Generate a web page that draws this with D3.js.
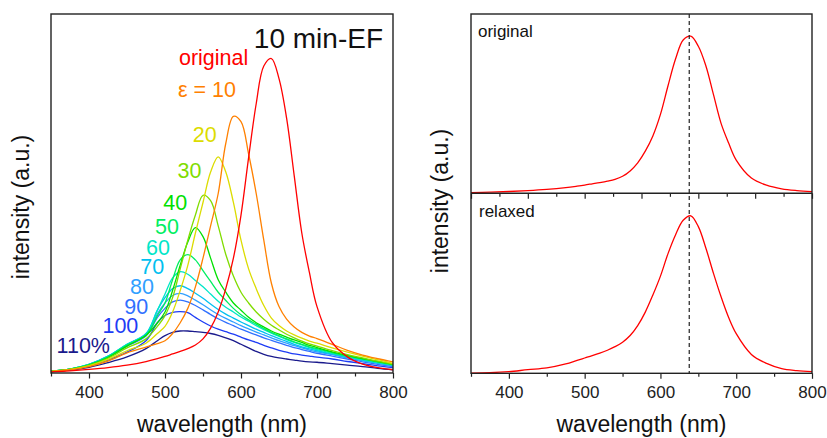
<!DOCTYPE html>
<html>
<head>
<meta charset="utf-8">
<script src="https://cdn.jsdelivr.net/npm/d3@7"></script>
<style>
  body { margin: 0; background: #fff; }
  svg { display: block; }
  text { font-family: "Liberation Sans", Arial, sans-serif; }
</style>
</head>
<body>
<svg width="827" height="438"></svg>
<script>
// wavelength grid (nm) shared by all spectra
const wavelengths = [350,375,400,425,450,475,490,500,510,520,530,540,550,560,570,580,590,600,610,620,630,640,650,660,670,680,690,700,720,740,760,780,800];

// PL spectra, intensity in % of plot height
const original = [0.3,0.6,1.0,1.5,2.2,3.2,4.0,4.6,5.3,6.0,6.8,7.8,9.5,12.5,17,23.5,32,44,60,75,85.5,87.6,82,71,55,39,28,18.5,8.5,4.5,2.5,1.5,0.9];
const eps10 = [0.4,0.9,1.8,3.3,5.6,7.2,8.2,9.0,11,14,18,24,32,41,50,64,71.5,70,61,50,37,25,18.5,15,12.8,11.3,10.3,9.6,8.0,6.3,5.0,4.0,3.1];
const eps20 = [0.4,1.0,2.0,3.8,6.2,8.3,11,13,17,23,30,39,47.5,56,60.2,56,47.5,37,29,23.5,18.8,15.3,13.2,11.7,10.6,9.7,8.9,8.3,7.0,5.8,4.7,3.7,2.7];
const eps30 = [0.5,1.0,2.1,4.1,7.0,9.5,13,16,21,29,37,44,49.5,48,41,33,27,22.5,19.5,17,15,13.3,12,10.8,9.8,8.9,8.1,7.5,6.2,5.1,4.2,3.3,2.5];
const eps40 = [0.5,1.1,2.2,4.3,7.5,10.5,14,17,23,30,36.5,40.5,38,32,26,22.5,19.5,17.5,15.5,14,12.8,11.7,10.8,10.0,9.2,8.5,7.7,7.1,5.9,4.9,4.0,3.2,2.4];
const eps50 = [0.5,1.1,2.3,4.5,7.8,10.5,16,19.5,26,31.5,33,31.5,28.5,25.5,22.5,20.2,18,16.2,14.8,13.6,12.4,11.3,10.4,9.5,8.7,8.0,7.3,6.8,5.7,4.7,3.9,3.1,2.3];
const eps60 = [0.5,1.1,2.4,4.6,8.0,10.8,17.5,22,26.5,28.2,27.5,25.8,24,22,20,18.3,17,15.6,14.4,13.2,12.1,11.1,10.2,9.3,8.5,7.8,7.1,6.5,5.5,4.5,3.7,2.9,2.2];
const eps70 = [0.5,1.1,2.4,4.7,8.0,11,17.5,21,23.5,24.3,23.5,22.2,20.8,19.2,17.7,16.4,15.3,14.2,13.2,12.2,11.3,10.4,9.6,8.8,8.0,7.3,6.7,6.2,5.3,4.4,3.6,2.8,2.1];
const eps80 = [0.5,1.1,2.4,4.7,7.9,10.8,16.5,19.5,21.6,22.2,21.5,20.3,19,17.6,16.3,15.2,14.2,13.2,12.3,11.4,10.6,9.8,9.0,8.3,7.6,7.0,6.4,5.9,5.1,4.2,3.4,2.7,2.0];
const eps90 = [0.5,1.0,2.3,4.5,7.5,10.3,15.5,18,19.8,20.3,19.8,18.8,17.6,16.3,15.1,14.1,13.2,12.2,11.4,10.6,9.8,9.1,8.4,7.7,7.1,6.5,6.0,5.5,4.7,3.9,3.1,2.4,1.8];
const eps100 = [0.4,0.9,2.0,3.6,5.8,9.0,14,16,16.9,17.1,16.8,15.5,14.2,13.1,12.2,11.5,10.8,10.0,9.2,8.5,7.7,7.0,6.3,5.8,5.3,5.0,4.7,4.4,3.9,3.2,2.6,2.0,1.5];
const eps110 = [0.4,0.8,1.6,2.9,4.5,6.8,9.0,10.4,11.3,11.7,11.7,11.5,11.3,11.0,10.5,9.8,9.0,8.0,7.0,6.0,5.2,4.6,4.2,3.9,3.6,3.3,3.1,3.0,2.6,2.2,1.8,1.3,0.9];
const relaxed = [0.1,0.3,0.9,2.0,3.0,5.2,7.2,8.5,9.8,11.2,12.8,14.8,17.3,21,26.5,34,43.5,54,66.5,77,85,87.5,81.5,69.5,55.5,42.5,31,22,10.5,5.5,2.6,1.5,0.9];

const seriesLabels = ["original", "ε = 10", "20", "30", "40", "50", "60", "70", "80", "90", "100", "110%"];
const seriesValues = [original, eps10, eps20, eps30, eps40, eps50, eps60, eps70, eps80, eps90, eps100, eps110];
const seriesColors = ["#ff0000", "#ff8000", "#dcdc00", "#80dc00", "#00e000", "#00ee60", "#00e6c8", "#00c0f0", "#30a0ff", "#3070ff", "#1e3cf5", "#1a1a8c"];
// label anchors (wavelength, intensity) for the right-aligned series labels
const labelPos = [[609.6,85.8],[593.4,77.0],[568,64.4],[548,54.3],[529.3,45.5],[518.4,38.7],[506.6,32.9],[499,27.6],[485.5,22.1],[478,16.4],[464.9,11.2],[427.6,5.65]];

const xTickValues = d3.range(350, 801, 50);
const topTickValues = d3.range(300, 901, 50);
const markerWavelength = 638;

const svg = d3.select("svg");
const frameColor = "#222";

// panel geometry
const L = {left: 51, right: 393, top: 14, bottom: 373};
const R = {left: 471, right: 812, top: 14, mid: 193.3, bottom: 373.3};

const xL = d3.scaleLinear().domain([350, 800]).range([L.left, L.right]);
const yL = d3.scaleLinear().domain([0, 100]).range([L.bottom, L.top]);
const xR = d3.scaleLinear().domain([350, 800]).range([R.left, R.right]);
const xRtop = d3.scaleLinear().domain([300, 900]).range([R.left, R.right]);
const yRtop = d3.scaleLinear().domain([0, 100]).range([R.mid, R.top]);
const yRbot = d3.scaleLinear().domain([0, 100]).range([R.bottom, R.mid]);

const defs = svg.append("defs");
defs.append("clipPath").attr("id", "clipL").append("rect")
    .attr("x", L.left).attr("y", L.top).attr("width", L.right - L.left).attr("height", L.bottom - L.top);
defs.append("clipPath").attr("id", "clipR").append("rect")
    .attr("x", R.left).attr("y", R.top).attr("width", R.right - R.left).attr("height", R.bottom - R.top);

function lineFor(x, y) {
    return d3.line()
        .x((d, i) => x(wavelengths[i]))
        .y(d => y(d))
        .curve(d3.curveCatmullRom.alpha(0.5));
}

// ---- left panel ----
const gL = svg.append("g").attr("clip-path", "url(#clipL)");
// draw navy first so red ends up on top
seriesValues.slice().reverse().forEach((vals, k) => {
    const i = seriesValues.length - 1 - k;
    gL.append("path")
      .attr("d", lineFor(xL, yL)(vals))
      .attr("fill", "none")
      .attr("stroke", seriesColors[i])
      .attr("stroke-width", 1.3);
});

seriesLabels.forEach((lab, i) => {
    svg.append("text")
       .attr("x", xL(labelPos[i][0]))
       .attr("y", yL(labelPos[i][1]))
       .attr("text-anchor", "end")
       .attr("font-size", 21.5)
       .attr("fill", seriesColors[i])
       .text(lab);
});

svg.append("text")
   .attr("x", 383).attr("y", 48)
   .attr("text-anchor", "end")
   .attr("font-size", 28)
   .attr("fill", "#111")
   .text("10 min-EF");

function bottomAxis(g, scale, values, labelled) {
    const ax = d3.axisBottom(scale)
        .tickValues(values)
        .tickSize(5)
        .tickPadding(8)
        .tickFormat(d => (labelled && d % 100 === 0) ? d : "");
    g.call(ax);
    g.select(".domain").remove();
    g.selectAll(".tick line")
     .attr("stroke", frameColor)
     .attr("stroke-width", 1.2)
     .attr("y2", d => d % 100 === 0 ? 5.5 : 3.5);
    g.selectAll(".tick text")
     .attr("font-size", 17)
     .attr("font-family", "Liberation Sans, Arial, sans-serif")
     .attr("fill", "#222");
}

bottomAxis(svg.append("g").attr("transform", `translate(0,${L.bottom})`), xL, xTickValues, true);

svg.append("rect")
   .attr("x", L.left).attr("y", L.top)
   .attr("width", L.right - L.left).attr("height", L.bottom - L.top)
   .attr("fill", "none").attr("stroke", frameColor).attr("stroke-width", 1.4);

svg.append("text")
   .attr("x", (L.left + L.right) / 2).attr("y", 432)
   .attr("text-anchor", "middle").attr("font-size", 23).attr("fill", "#111")
   .text("wavelength (nm)");
svg.append("text")
   .attr("transform", "translate(29,207) rotate(-90)")
   .attr("text-anchor", "middle").attr("font-size", 23).attr("fill", "#111")
   .text("intensity (a.u.)");

// ---- right panels ----
const gR = svg.append("g").attr("clip-path", "url(#clipR)");
gR.append("path")
  .attr("d", lineFor(xR, yRtop)(original))
  .attr("fill", "none").attr("stroke", "#ff0000").attr("stroke-width", 1.3);
gR.append("path")
  .attr("d", lineFor(xR, yRbot)(relaxed))
  .attr("fill", "none").attr("stroke", "#ff0000").attr("stroke-width", 1.3);

bottomAxis(svg.append("g").attr("transform", `translate(0,${R.mid})`), xRtop, topTickValues, false);
bottomAxis(svg.append("g").attr("transform", `translate(0,${R.bottom})`), xR, xTickValues, true);

svg.append("line")
   .attr("x1", xR(markerWavelength)).attr("x2", xR(markerWavelength))
   .attr("y1", R.top).attr("y2", R.bottom)
   .attr("stroke", "#222").attr("stroke-width", 1.2)
   .attr("stroke-dasharray", "4,3");

svg.append("rect")
   .attr("x", R.left).attr("y", R.top)
   .attr("width", R.right - R.left).attr("height", R.bottom - R.top)
   .attr("fill", "none").attr("stroke", frameColor).attr("stroke-width", 1.4);
svg.append("line")
   .attr("x1", R.left).attr("x2", R.right).attr("y1", R.mid).attr("y2", R.mid)
   .attr("stroke", frameColor).attr("stroke-width", 1.4);

svg.append("text").attr("x", 478).attr("y", 37).attr("font-size", 17).attr("fill", "#111").text("original");
svg.append("text").attr("x", 479).attr("y", 217).attr("font-size", 17).attr("fill", "#111").text("relaxed");

svg.append("text")
   .attr("x", (R.left + R.right) / 2).attr("y", 432)
   .attr("text-anchor", "middle").attr("font-size", 23).attr("fill", "#111")
   .text("wavelength (nm)");
svg.append("text")
   .attr("transform", "translate(448,201) rotate(-90)")
   .attr("text-anchor", "middle").attr("font-size", 23).attr("fill", "#111")
   .text("intensity (a.u.)");
</script>
</body>
</html>
